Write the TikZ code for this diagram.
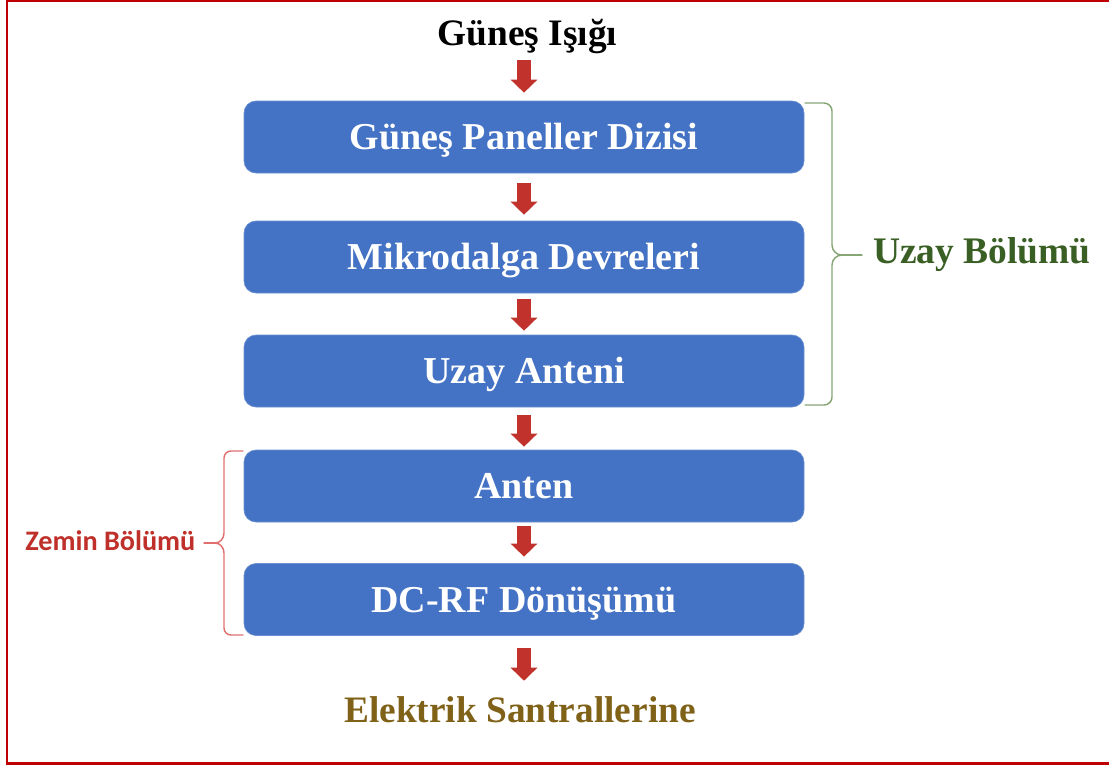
\documentclass[tikz,border=0pt]{standalone}
\usepackage{fontspec}
\setmainfont{Liberation Serif}
\newfontfamily\calibfont{Carlito}
\usetikzlibrary{arrows.meta}
\definecolor{boxblue}{HTML}{4472C4}
\definecolor{boxedge}{HTML}{6B8FD2}
\definecolor{arrowred}{HTML}{C0322B}
\definecolor{uzaygreen}{HTML}{3A5F24}
\definecolor{bracegreen}{HTML}{86A676}
\definecolor{plantbrown}{HTML}{7F6118}
\definecolor{zeminred}{HTML}{C0302A}
\definecolor{bracered}{HTML}{E07070}
\definecolor{framered}{HTML}{C00000}
\begin{document}
\begin{tikzpicture}[x=0.75pt,y=-0.75pt,
  stepbox/.style={fill=boxblue, draw=boxedge, line width=0.5pt, rounded corners=9pt,
    minimum width=420pt, minimum height=54pt, inner sep=0pt, text=white,
    font=\bfseries\fontsize{28.5}{30}\selectfont, text height=18.75pt, text depth=0pt},
  endtext/.style={minimum height=41.25pt, inner sep=0pt,
    font=\bfseries\fontsize{28}{30}\selectfont, text height=18.75pt, text depth=0pt},
  flow/.style={draw=arrowred, line width=10.5pt, -{Triangle[width=19.5pt,length=9.75pt]}},
  sidebrace/.style={line width=1.1pt, line cap=round, line join=round}
]
\useasboundingbox (0,0) rectangle (1109,765);
% frame
\draw[framered, line width=1.6pt] (1120,0.5) -- (7,0.5) -- (7,763.5) -- (1120,763.5);

% nodes
\node[endtext] (sun) at (527.5,32.5) {Güneş Işığı};
\node[stepbox] (b1) at (524,137) {Güneş Paneller Dizisi};
\node[stepbox] (b2) at (524,257) {Mikrodalga Devreleri};
\node[stepbox] (b3) at (524,371) {Uzay Anteni};
\node[stepbox] (b4) at (524,486) {Anten};
\node[stepbox] (b5) at (524,599.5) {DC-RF Dönüşümü};
\node[endtext, text=plantbrown] (plant) at (520,709.5) {Elektrik Santrallerine};

% connectors
\draw[flow, shorten >=6pt] (sun.south -| b1) -- (b1.north);
\draw[flow, shorten <=7.5pt, shorten >=4.5pt] (b1.south) -- (b2.north);
\draw[flow, shorten <=4.5pt, shorten >=3pt] (b2.south) -- (b3.north);
\draw[flow, shorten <=6pt, shorten >=2.25pt] (b3.south) -- (b4.north);
\draw[flow, shorten <=3pt, shorten >=4.9pt] (b4.south) -- (b5.north);
\draw[flow, shorten <=9pt, shorten >=0.75pt] (b5.south) -- (plant.north -| b5);

% Uzay brace
\draw[bracegreen, sidebrace] (805,103) -- (824,103) to[out=0,in=90] (832,111) -- (832,245)
  to[out=-90,in=180] (842,255) to[out=180,in=90] (832,265) -- (832,397)
  to[out=-90,in=0] (824,405) -- (805,405);
\draw[bracegreen, sidebrace] (842,255) -- (862,255);
\node[anchor=base west, inner sep=0pt, text=uzaygreen,
  font=\bfseries\fontsize{28.1}{31}\selectfont] (uzay) at (873,263) {Uzay Bölümü};

% Zemin brace
\draw[bracered, sidebrace] (243,451) -- (231,451) to[out=180,in=90] (224,458) -- (224,533)
  to[out=-90,in=0] (215,543) to[out=0,in=90] (224,553) -- (224,628)
  to[out=-90,in=180] (231,635) -- (243,635);
\draw[bracered, sidebrace] (215,543) -- (204,543);
\node[anchor=base west, inner sep=0pt, text=zeminred,
  font=\calibfont\bfseries\fontsize{21.2}{23}\selectfont] (zemin) at (25,550) {Zemin Bölümü};
\end{tikzpicture}
\end{document}
